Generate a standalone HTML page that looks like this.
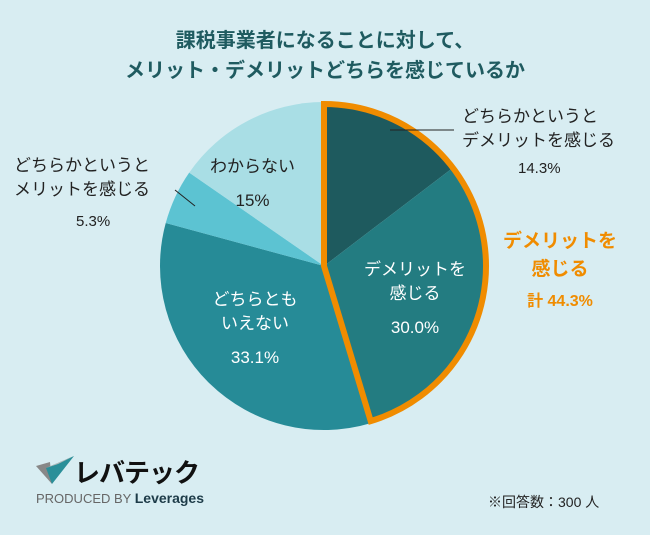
<!DOCTYPE html>
<html><head><meta charset="utf-8"><style>
body{margin:0;width:650px;height:535px;background:#d8edf2;font-family:"Liberation Sans","Noto Sans CJK JP",sans-serif;overflow:hidden;position:relative}
.t{position:absolute;white-space:nowrap}
</style></head><body>
<div class="t" style="left:0;width:650px;top:26px;text-align:center;font-size:20px;font-weight:bold;color:#1f5b60;line-height:30px">課税事業者になることに対して、<br>メリット・デメリットどちらを感じているか</div>
<svg id="pie" width="650" height="535" style="position:absolute;left:0;top:0"></svg>
<div class="t" style="left:462px;top:105px;font-size:17px;color:#222;line-height:24px">どちらかというと<br>デメリットを感じる</div>
<div class="t" style="left:518px;top:160px;font-size:15px;color:#222">14.3%</div>
<div class="t" style="left:14px;top:154px;font-size:17px;color:#222;line-height:24px">どちらかというと<br>メリットを感じる</div>
<div class="t" style="left:76px;top:213px;font-size:15px;color:#222">5.3%</div>
<div class="t" style="left:210px;top:150px;font-size:17px;color:#222;text-align:center;line-height:34px">わからない<br>15%</div>
<div class="t" style="left:355px;top:258px;width:120px;font-size:17px;color:#fff;text-align:center;line-height:24px">デメリットを<br>感じる<br><span style="line-height:44px">30.0%</span></div>
<div class="t" style="left:195px;top:288px;width:120px;font-size:17px;color:#fff;text-align:center;line-height:24px">どちらとも<br>いえない<br><span style="line-height:44px">33.1%</span></div>
<div class="t" style="left:490px;top:228px;width:140px;text-align:center;font-size:19px;font-weight:bold;color:#f08c00;line-height:28px">デメリットを<br>感じる<br><span style="font-size:16px;line-height:36px">計 44.3%</span></div>
<svg width="40" height="36" style="position:absolute;left:36px;top:454px"><polygon points="0,12 14,8 16,30" fill="#888"/><polygon points="10,14 38,2 16,30" fill="#2a8f99"/><polygon points="10,14 38,2 22,10" fill="#bbb"/></svg>
<div class="t" style="left:74px;top:453px;font-size:26px;font-weight:bold;color:#111;letter-spacing:-1px">レバテック</div>
<div class="t" style="left:36px;top:490px;font-size:13px;color:#666">PRODUCED BY <b style="color:#1d3b48;font-size:14px">Leverages</b></div>
<div class="t" style="left:488px;top:492px;font-size:14px;color:#222">※回答数：300 人</div>
<script>
const categories=["どちらかというとデメリットを感じる","デメリットを感じる","どちらともいえない","どちらかというとメリットを感じる","わからない"];
const values=[14.3,30.0,33.1,5.3,15];
const colors=["#1e5a5e","#237c81","#268b97","#5cc3d2","#a9dee5"];
const svg=document.getElementById('pie');
const NS="http://www.w3.org/2000/svg";
const cx=324,cy=266,r=164;
const total=values.reduce((a,b)=>a+b,0);
function pt(a,rr){return [cx+rr*Math.sin(a),cy-rr*Math.cos(a)];}
function arc(a0,a1,rr){const p0=pt(a0,rr),p1=pt(a1,rr);const l=(a1-a0)>Math.PI?1:0;return `M${cx},${cy}L${p0[0]},${p0[1]}A${rr},${rr} 0 ${l} 1 ${p1[0]},${p1[1]}Z`;}
let acc=0;const angles=[];
values.forEach((v,i)=>{const a0=acc/total*2*Math.PI;acc+=v;const a1=acc/total*2*Math.PI;angles.push([a0,a1]);
const p=document.createElementNS(NS,'path');p.setAttribute('d',arc(a0,a1,r));p.setAttribute('fill',colors[i]);


svg.appendChild(p);});
const o=document.createElementNS(NS,'path');o.setAttribute('d',arc(angles[0][0],angles[1][1],r-2));
o.setAttribute('fill','none');o.setAttribute('stroke','#f08c00');o.setAttribute('stroke-width','6');o.setAttribute('stroke-linejoin','miter');


svg.appendChild(o);
function line(x1,y1,x2,y2,n){const l=document.createElementNS(NS,'line');l.setAttribute('x1',x1);l.setAttribute('y1',y1);l.setAttribute('x2',x2);l.setAttribute('y2',y2);l.setAttribute('stroke','#222');l.setAttribute('stroke-width','1');


svg.appendChild(l);}
line(390,130,454,130,'leader-line-demerit');
line(175,190,195,206,'leader-line-merit');
</script>
</body></html>
